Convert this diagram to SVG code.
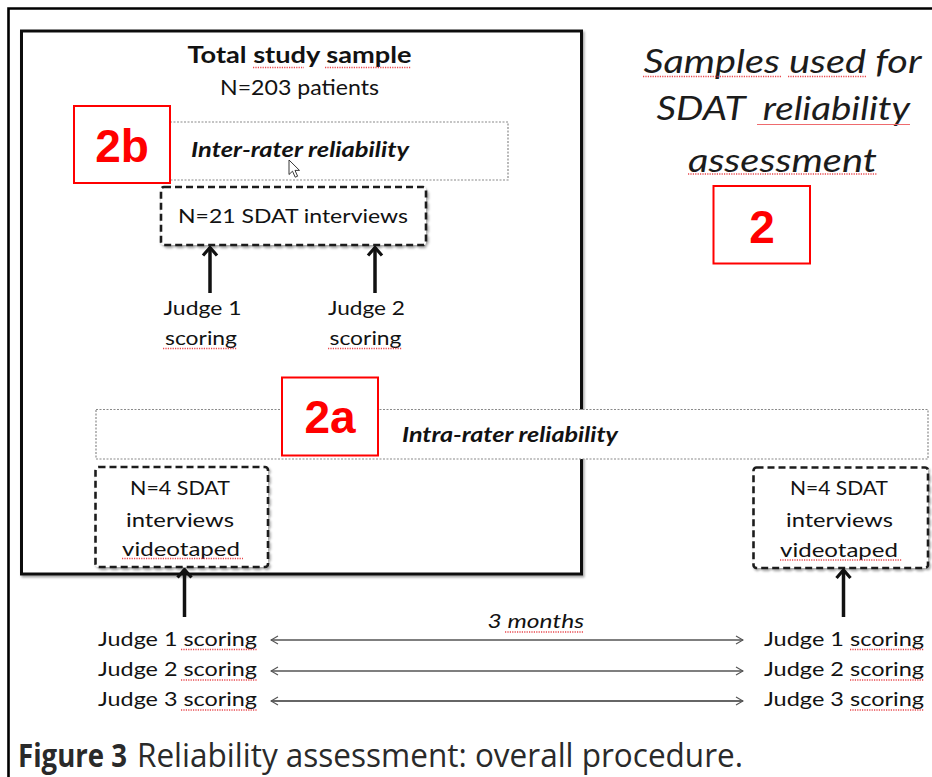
<svg xmlns="http://www.w3.org/2000/svg" width="932" height="777" viewBox="0 0 932 777">
  <style>
    .body { font-family: Lato, "Open Sans", "Liberation Sans", sans-serif; font-size: 20px; fill: #121212; }
    .bi { font-weight: bold; font-style: italic; }
    .it { font-style: italic; }
    .title { font-size: 23px; font-weight: bold; }
    .sub { font-size: 21px; }
    .head { font-size: 33px; fill: #1c1c1c; }
    .tag { font-family: "Liberation Sans", Arial, sans-serif; font-weight: bold; font-size: 46px; fill: #ff0000; text-anchor: middle; }
    .tagbox { fill: #ffffff; stroke: #ff0000; stroke-width: 2; }
    .band { fill: #ffffff; stroke: #8a8a8a; stroke-width: 1.2; stroke-dasharray: 2 1.5; }
    .dash { fill: #ffffff; stroke: #1e1e1e; stroke-width: 2.6; stroke-dasharray: 7 4; }
    .thick { stroke: #111; stroke-width: 3.5; fill: none; }
    .thin { stroke: #555; stroke-width: 1.3; fill: none; }
    .thin.dark { stroke: #333; stroke-width: 1.7; }
    .proof { stroke: #e8484d; stroke-width: 1.4; stroke-dasharray: 1.2 1.2; fill: none; }
    .caption { font-family: "Open Sans", "Noto Sans", "Liberation Sans", sans-serif; font-size: 32px; fill: #2a2a2a; }
  </style>
  <defs>
    <filter id="shadow" x="-5%" y="-5%" width="110%" height="115%">
      <feDropShadow dx="1.5" dy="2" stdDeviation="1.2" flood-color="#000" flood-opacity="0.35"/>
    </filter>
    <!-- open chevron heads; drawn pointing along +x so orient="auto" follows the line -->
    <marker id="head-bold" viewBox="0 0 12 18" refX="10" refY="9" markerWidth="12" markerHeight="18" markerUnits="userSpaceOnUse" orient="auto-start-reverse">
      <path d="M2,2 L10,9 L2,16" fill="none" stroke="#111" stroke-width="3.2"/>
    </marker>
    <marker id="head-thin" viewBox="0 0 10 10" refX="9" refY="5" markerWidth="10" markerHeight="10" markerUnits="userSpaceOnUse" orient="auto-start-reverse">
      <path d="M2,1 L9,5 L2,9" fill="none" stroke="#555" stroke-width="1.2"/>
    </marker>
  </defs>

  <rect width="932" height="777" fill="#ffffff"/>

  <!-- page frame -->
  <path d="M8.5,777 L8.5,8.5 L932,8.5" fill="none" stroke="#000" stroke-width="2.6"/>

  <!-- total sample box -->
  <g id="total-sample">
    <rect x="21.5" y="31" width="560" height="543" fill="#ffffff" stroke="#111" stroke-width="3" filter="url(#shadow)"/>
    <text class="body title" x="299.5" y="63" text-anchor="middle" textLength="224" lengthAdjust="spacingAndGlyphs">Total study sample</text>
    <text class="body sub" x="299.5" y="95" text-anchor="middle" textLength="159" lengthAdjust="spacingAndGlyphs">N=203 patients</text>
  </g>

  <!-- inter-rater band -->
  <g id="inter-rater">
    <rect class="band" x="170" y="122" width="338" height="58"/>
    <text class="body bi" x="191" y="157" textLength="218" lengthAdjust="spacingAndGlyphs">Inter-rater reliability</text>
    <path d="M289,160 L289,174.5 L292.5,171.2 L295.2,177.2 L297.6,176.2 L295,170.4 L299.5,170.4 Z" fill="#ffffff" stroke="#222" stroke-width="0.9" stroke-linejoin="round"/>
  </g>

  <g id="tag-2b">
    <rect class="tagbox" x="74" y="106" width="96" height="77"/>
    <text class="tag" x="122" y="161.5">2b</text>
  </g>

  <g id="inter-sample">
    <rect class="dash" x="161" y="187" width="265" height="58" rx="3" filter="url(#shadow)"/>
    <text class="body" x="293" y="223" text-anchor="middle" textLength="230" lengthAdjust="spacingAndGlyphs">N=21 SDAT interviews</text>
  </g>

  <g id="inter-judge-1">
    <text class="body" x="202.5" y="315" text-anchor="middle" textLength="78" lengthAdjust="spacingAndGlyphs">Judge 1</text>
    <text class="body" x="201" y="345" text-anchor="middle" textLength="72" lengthAdjust="spacingAndGlyphs">scoring</text>
  </g>

  <g id="inter-judge-2">
    <text class="body" x="366.5" y="315" text-anchor="middle" textLength="77" lengthAdjust="spacingAndGlyphs">Judge 2</text>
    <text class="body" x="365.5" y="345" text-anchor="middle" textLength="72" lengthAdjust="spacingAndGlyphs">scoring</text>
  </g>

  <!-- intra-rater band -->
  <g id="intra-rater">
    <rect class="band" x="96" y="409.5" width="832" height="49.5"/>
    <text class="body bi" x="402" y="442" textLength="216" lengthAdjust="spacingAndGlyphs">Intra-rater reliability</text>
  </g>

  <g id="tag-2a">
    <rect class="tagbox" x="282" y="377.5" width="96" height="78"/>
    <text class="tag" x="330" y="433">2a</text>
  </g>

  <g id="intra-sample-first">
    <rect class="dash" x="95.5" y="467" width="172.5" height="100" rx="3" filter="url(#shadow)"/>
    <text class="body" x="180" y="494.5" text-anchor="middle" textLength="100" lengthAdjust="spacingAndGlyphs">N=4 SDAT</text>
    <text class="body" x="180" y="527" text-anchor="middle" textLength="108" lengthAdjust="spacingAndGlyphs">interviews</text>
    <text class="body" x="181" y="556" text-anchor="middle" textLength="118" lengthAdjust="spacingAndGlyphs">videotaped</text>
  </g>

  <g id="intra-sample-second">
    <rect class="dash" x="753.5" y="467.5" width="174.5" height="100.5" rx="3" filter="url(#shadow)"/>
    <text class="body" x="839" y="494.5" text-anchor="middle" textLength="98" lengthAdjust="spacingAndGlyphs">N=4 SDAT</text>
    <text class="body" x="839.5" y="527" text-anchor="middle" textLength="107" lengthAdjust="spacingAndGlyphs">interviews</text>
    <text class="body" x="839" y="556.5" text-anchor="middle" textLength="118" lengthAdjust="spacingAndGlyphs">videotaped</text>
  </g>

  <!-- scoring rows, first session -->
  <g id="session-1">
    <text class="body" x="98" y="645.5" textLength="159" lengthAdjust="spacingAndGlyphs">Judge 1 scoring</text>
    <text class="body" x="98" y="676" textLength="159" lengthAdjust="spacingAndGlyphs">Judge 2 scoring</text>
    <text class="body" x="98" y="706" textLength="159" lengthAdjust="spacingAndGlyphs">Judge 3 scoring</text>
  </g>

  <!-- scoring rows, second session -->
  <g id="session-2">
    <text class="body" x="764" y="645.5" textLength="160" lengthAdjust="spacingAndGlyphs">Judge 1 scoring</text>
    <text class="body" x="764" y="676" textLength="160" lengthAdjust="spacingAndGlyphs">Judge 2 scoring</text>
    <text class="body" x="764" y="706" textLength="160" lengthAdjust="spacingAndGlyphs">Judge 3 scoring</text>
  </g>

  <g id="interval">
    <text class="body it" x="487.5" y="627.5" textLength="96.5" lengthAdjust="spacingAndGlyphs">3 months</text>
  </g>

  <!-- connectors -->
  <g id="connectors">
    <line class="thick" x1="210" y1="293" x2="210" y2="247.5" marker-end="url(#head-bold)"/>
    <line class="thick" x1="375" y1="293" x2="375" y2="247.5" marker-end="url(#head-bold)"/>
    <line class="thick" x1="184.5" y1="617" x2="184.5" y2="569.5" marker-end="url(#head-bold)"/>
    <line class="thick" x1="843.5" y1="617" x2="843.5" y2="570" marker-end="url(#head-bold)"/>
    <line class="thin" x1="271" y1="640" x2="743" y2="640" marker-start="url(#head-thin)" marker-end="url(#head-thin)"/>
    <line class="thin" x1="271" y1="671" x2="743" y2="671" marker-start="url(#head-thin)" marker-end="url(#head-thin)"/>
    <line class="thin dark" x1="271" y1="701" x2="743" y2="701" marker-start="url(#head-thin)" marker-end="url(#head-thin)"/>
  </g>

  <!-- side heading -->
  <g id="heading">
    <text class="body it head" x="643.5" y="72.5" textLength="278" lengthAdjust="spacingAndGlyphs">Samples used for</text>
    <text class="body it head" x="656.5" y="120" xml:space="preserve" textLength="253.5" lengthAdjust="spacingAndGlyphs">SDAT  reliability</text>
    <text class="body it head" x="688" y="171.5" textLength="189" lengthAdjust="spacingAndGlyphs">assessment</text>
  </g>

  <g id="tag-2">
    <rect class="tagbox" x="713.5" y="186" width="96.5" height="77.5"/>
    <text class="tag" x="762" y="242.5">2</text>
  </g>

  <!-- proofing underlines -->
  <g id="proofing-marks">
    <line class="proof" x1="253" y1="67.5" x2="304" y2="67.5"/>
    <line class="proof" x1="325" y1="67.5" x2="411" y2="67.5"/>
    <line class="proof" x1="643" y1="76.5" x2="782" y2="76.5"/>
    <line class="proof" x1="788" y1="76.5" x2="867" y2="76.5"/>
    <line x1="757" y1="124.5" x2="910" y2="124.5" stroke="#ee6b6e" stroke-width="1.2"/>
    <line class="proof" x1="688" y1="174" x2="877" y2="174"/>
    <line class="proof" x1="163" y1="348.5" x2="237" y2="348.5"/>
    <line class="proof" x1="328" y1="348.5" x2="402" y2="348.5"/>
    <line class="proof" x1="122" y1="558.5" x2="243" y2="558.5"/>
    <line class="proof" x1="780" y1="560" x2="902" y2="560"/>
    <line class="proof" x1="181" y1="649.5" x2="257" y2="649.5"/>
    <line class="proof" x1="181" y1="680" x2="257" y2="680"/>
    <line class="proof" x1="181" y1="710" x2="257" y2="710"/>
    <line class="proof" x1="850" y1="649.5" x2="924" y2="649.5"/>
    <line class="proof" x1="850" y1="680" x2="924" y2="680"/>
    <line class="proof" x1="850" y1="710" x2="924" y2="710"/>
    <line class="proof" x1="505" y1="632" x2="584" y2="632"/>
  </g>

  <!-- figure caption -->
  <g id="caption">
    <text class="caption" x="18" y="767" font-weight="bold" textLength="109" lengthAdjust="spacingAndGlyphs">Figure 3</text>
    <text class="caption" x="137" y="767" textLength="606" lengthAdjust="spacingAndGlyphs">Reliability assessment: overall procedure.</text>
  </g>
</svg>
